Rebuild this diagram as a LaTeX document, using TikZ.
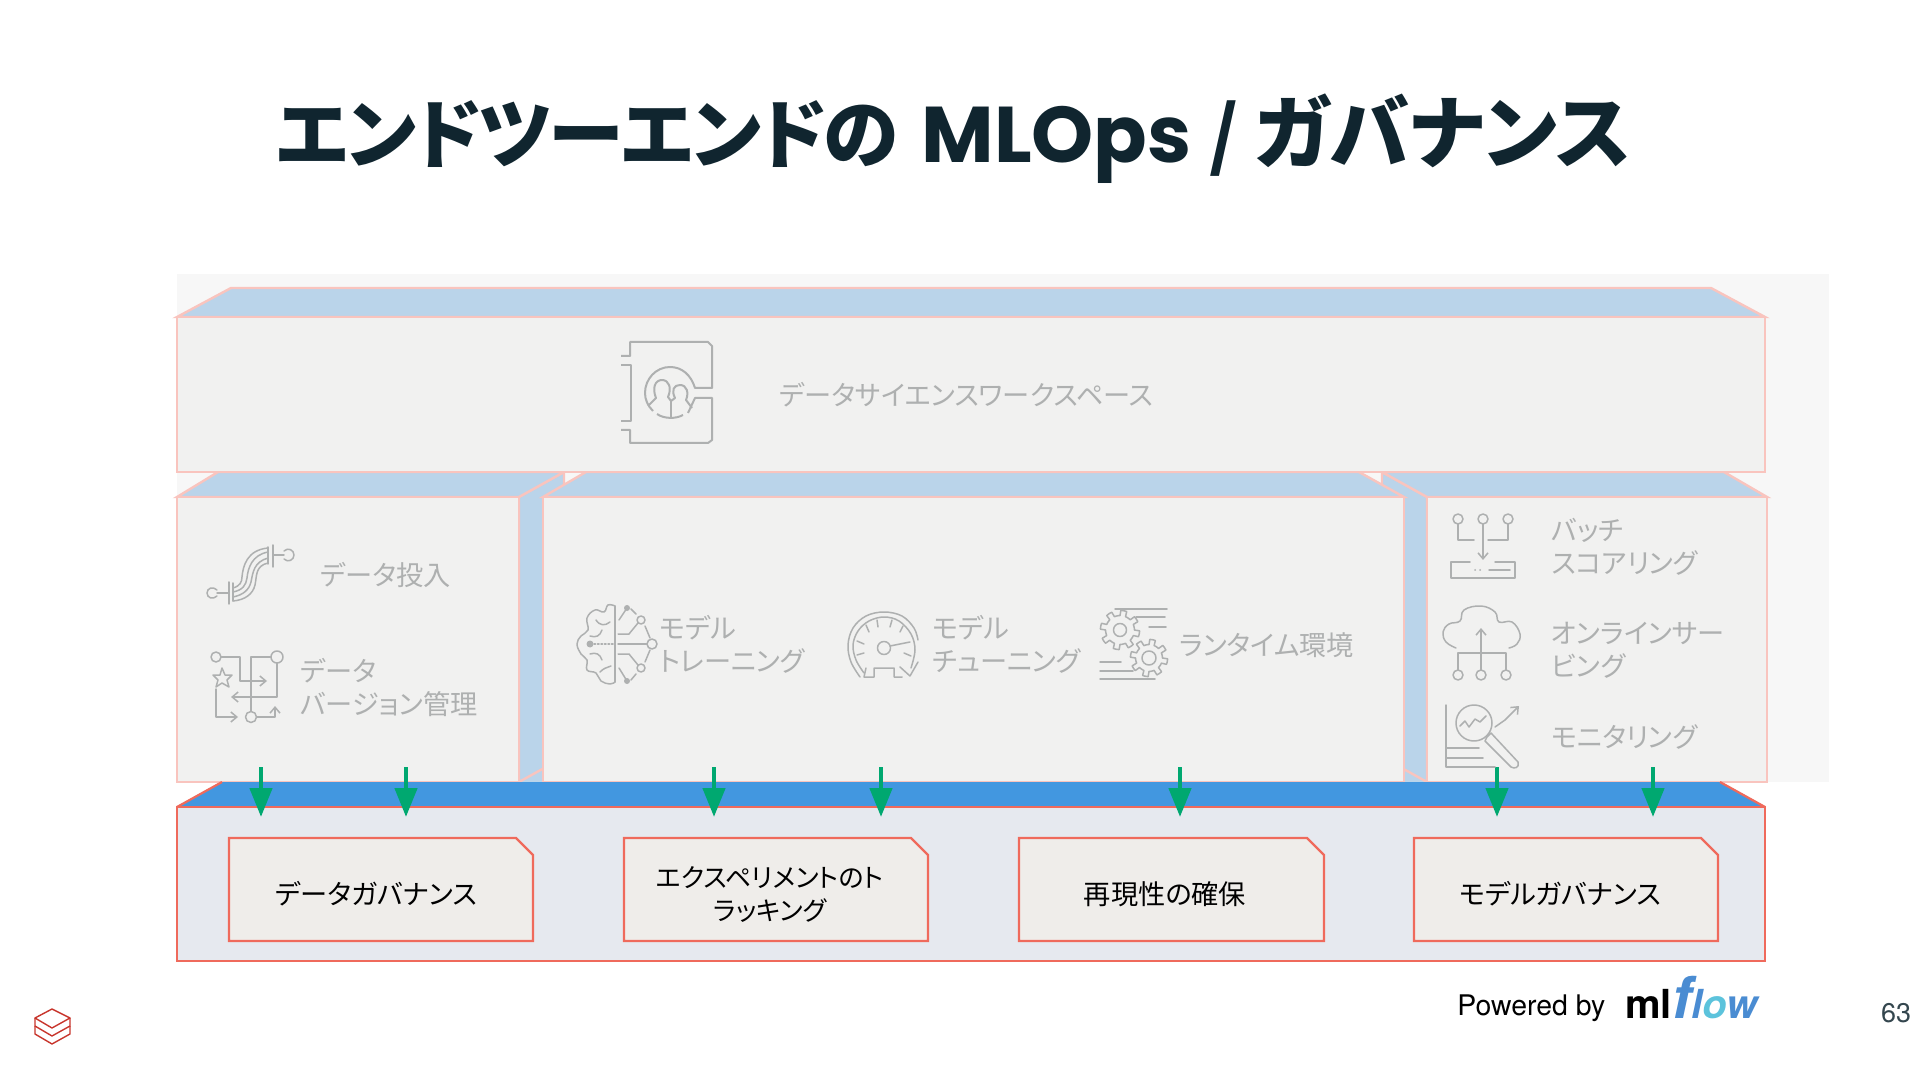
\documentclass[tikz,border=0pt]{standalone}
\usepackage{fontspec}
\setmainfont[RawFeature={+palt}]{Noto Sans CJK JP}
\newfontfamily\latinfont{TeX Gyre Heros}
\newfontfamily\titlelatin{Poppins}
\usetikzlibrary{arrows.meta}
\definecolor{pagebg}{HTML}{F7F7F7}
\definecolor{frontc}{HTML}{F1F1F0}
\definecolor{topc}{HTML}{BAD4EA}
\definecolor{pinkc}{HTML}{F9C4BE}
\definecolor{redc}{HTML}{EF6A5C}
\definecolor{govfront}{HTML}{E6E9EF}
\definecolor{govtop}{HTML}{4297E0}
\definecolor{cardc}{HTML}{EFEDEA}
\definecolor{greenc}{HTML}{00A870}
\definecolor{iconc}{HTML}{AEB0B0}
\definecolor{titlec}{HTML}{10252F}
\definecolor{logoc}{HTML}{C8352C}
\definecolor{mlblue}{HTML}{4A8CD2}
\definecolor{mlcyan}{HTML}{5CC3DC}
\tikzset{
  faint/.style={draw=pinkc,line width=1.2pt,line join=miter},
  strong/.style={draw=redc,line width=1.1pt,line join=miter},
  label/.style={inner sep=0pt,text=iconc,anchor=west,align=left,font=\fontsize{13.6}{16.5}\selectfont},
  cardtext/.style={inner sep=0pt,text=black,anchor=center,align=center,font=\fontsize{13.6}{16.5}\selectfont},
  icon/.style={draw=iconc,line width=0.75pt,line cap=round,line join=round},
  heavyicon/.style={draw=iconc,line width=1pt,line cap=butt,line join=round},
  flowarrow/.style={draw=greenc,line width=2.3pt,-{Triangle[length=14.5pt,width=11pt]}},
}
\newcommand{\gearicon}[3]{% cx cy r
  \path[icon,fill=frontc] plot[domain=0:360,samples=145,variable=\t] ({#1+(#3+(sin(8*\t)>0?2.6:-2.6))*cos(\t)},{#2+(#3+(sin(8*\t)>0?2.6:-2.6))*sin(\t)}) -- cycle;
}
\begin{document}
\begin{tikzpicture}[x=0.5pt,y=-0.5pt]
\path[use as bounding box,fill=white] (0,0) rectangle (1918,1080);
\fill[pagebg] (177,274) rectangle (1829,782);
% workspace block
\path[faint,fill=topc] (177,317) -- (231,288) -- (1711,288) -- (1765,317) -- cycle;
% side faces of the middle blocks
\fill[topc] (519,740) rectangle (543,782);
\fill[topc] (1404,740) rectangle (1427,782);
\path[faint,fill=topc] (519,497) -- (564,472) -- (564,757) -- (519,782) -- cycle;
\path[faint,fill=topc] (1427,497) -- (1382,472) -- (1382,757) -- (1427,782) -- cycle;
% tops of the middle blocks
\path[faint,fill=topc] (177,497) -- (218,472) -- (564,472) -- (519,497) -- cycle;
\path[faint,fill=topc] (543,497) -- (586,472) -- (1359,472) -- (1404,497) -- cycle;
\path[faint,fill=topc] (1427,497) -- (1382,472) -- (1724,472) -- (1767,497) -- cycle;
% fronts
\path[faint,fill=frontc] (177,317) rectangle (1765,472);
\path[faint,fill=frontc] (177,497) rectangle (519,782);
\path[faint,fill=frontc] (543,497) rectangle (1404,782);
\path[faint,fill=frontc] (1427,497) rectangle (1767,782);
% governance block
\path[fill=govtop] (177,807) -- (222,782) -- (1720,782) -- (1765,807) -- cycle;
\draw[strong] (177,807) -- (222,782);
\draw[strong] (1720,782) -- (1765,807);
\path[strong,fill=govfront] (177,807) rectangle (1765,961);
% cards
\path[strong,fill=cardc] (229,838) -- (516,838) -- (533,855) -- (533,941) -- (229,941) -- cycle;
\path[strong,fill=cardc] (624,838) -- (911,838) -- (928,855) -- (928,941) -- (624,941) -- cycle;
\path[strong,fill=cardc] (1019,838) -- (1307,838) -- (1324,855) -- (1324,941) -- (1019,941) -- cycle;
\path[strong,fill=cardc] (1414,838) -- (1701,838) -- (1718,855) -- (1718,941) -- (1414,941) -- cycle;
% texts
\node[inner sep=0pt,anchor=west,text=titlec,font=\fontsize{38}{44}\selectfont\bfseries] (title) at (276,139) {{\addfontfeature{LetterSpace=-3}エンドツーエンドの}\hspace{11.5pt}{\titlelatin\fontsize{39.5}{44}\selectfont MLOps}\hspace{9pt}/\hspace{8pt}{\fontsize{40}{44}\selectfont ガバナンス}};
\node[label] (wslabel) at (779,395) {データサイエンスワークスペース};
\node[label] (ingest) at (320,575) {データ投入};
\node[label] (version) at (300,688) {データ\\バージョン管理};
\node[label] (train) at (659,644) {モデル\\トレーニング};
\node[label] (tune) at (932,644) {モデル\\チューニング};
\node[label] (runtime) at (1179,645) {ランタイム環境};
\node[label] (batch) at (1551,547) {バッチ\\スコアリング};
\node[label] (serving) at (1551,650) {オンラインサー\\ビング};
\node[label] (monitor) at (1551,737) {モニタリング};
\node[cardtext] (card1) at (376,894) {データガバナンス};
\node[cardtext,font=\fontsize{13}{16.5}\selectfont] (card2) at (770,894) {エクスペリメントのト\\ラッキング};
\node[cardtext] (card3) at (1165,894) {再現性の確保};
\node[cardtext] (card4) at (1560,894) {モデルガバナンス};
\node[inner sep=0pt,anchor=base west,text=black,font=\latinfont\fontsize{14.2}{16}\selectfont] (powered) at (1457,1015) {Powered by};
\node[inner sep=0pt,anchor=base west,font=\latinfont\fontsize{20}{20}\selectfont\bfseries] (mlflow) at (1625,1018) {ml\textcolor{mlblue}{\itshape{\fontsize{29}{20}\selectfont f}l\textcolor{mlcyan}{o}w}};
\node[inner sep=0pt,text=titlec!85,font=\latinfont\fontsize{13.5}{16}\selectfont] (pageno) at (1896,1013) {63};
% arrows
\foreach \n/\x in {a/261,b/406,c/714,d/881,e/1180,f/1497,g/1653}{
  \coordinate (\n s) at (\x,767);
  \coordinate (\n e) at (\x,817);
  \draw[flowarrow] (\n s) -- (\n e);
}
% workspace icon
\draw[heavyicon] (621,356) -- (630,356) -- (630,342) -- (708,342) -- (712,346) -- (712,388) -- (695,388)
  .. controls (691,375) and (682,367) .. (670,367)
  .. controls (656,367) and (645,379) .. (645,393)
  .. controls (645,400) and (648,406) .. (653,411);
\draw[heavyicon] (688,413) -- (695,398) -- (712,398) -- (712,440) -- (708,443) -- (630,443) -- (630,430) -- (621,430);
\draw[heavyicon] (621,365) -- (631,365) -- (631,421) -- (621,421);
\draw[heavyicon] (648,406) -- (656,398) .. controls (652,388) and (655,380) .. (662,380) .. controls (669,380) and (672,388) .. (668,397) -- (671,401) -- (675,398) .. controls (671,390) and (674,385) .. (680,385) .. controls (687,385) and (689,393) .. (686,400) -- (692,408);
\draw[heavyicon] (671,401) -- (671,418);
\draw[heavyicon] (657,414) .. controls (664,419) and (676,419) .. (683,415);
% pipe icon
\draw[icon] (217,596) .. controls (213,600) and (207,598) .. (207,593) .. controls (207,588) and (213,586) .. (217,590);
\draw[icon] (217,593) -- (229,593);
\draw[icon] (229,582) -- (229,604);
\draw[icon] (233,583) -- (233,601);
\draw[icon] (233,588) .. controls (240,586) and (242,582) .. (242,577) .. controls (243,566) and (247,550) .. (268,548);
\draw[icon] (233,601) .. controls (245,600) and (253,594) .. (255,585) .. controls (257,576) and (255,566) .. (268,563);
\draw[icon] (233,592) .. controls (243,590) and (246,585) .. (247,578) .. controls (248,568) and (252,555) .. (268,552);
\draw[icon] (233,597) .. controls (243,595) and (249,590) .. (251,582) .. controls (253,572) and (254,562) .. (268,558);
\draw[icon] (268,547) -- (268,564);
\draw[icon] (273,545) -- (273,567);
\draw[icon] (273,555) -- (284,555);
\draw[icon] (284,551) .. controls (288,547) and (294,550) .. (294,555) .. controls (294,560) and (288,563) .. (284,559);
% version icon
\draw[icon] (216,657) circle[radius=5];
\draw[icon] (277,657) circle[radius=6];
\draw[icon] (251,717) circle[radius=5.5];
\draw[icon,-{Straight Barb[length=3pt,width=5pt]}] (221,657) -- (240,657) -- (240,681) -- (267,681);
\draw[icon] (271,657) -- (251,657) -- (251,711);
\draw[icon,-{Straight Barb[length=3pt,width=5pt]}] (277,663) -- (277,697) -- (231,697);
\draw[icon,-{Straight Barb[length=3pt,width=5pt]}] (216,689) -- (216,717) -- (238,717);
\draw[icon,-{Straight Barb[length=3pt,width=5pt]}] (257,717) -- (275,717) -- (275,706);
\draw[icon] (222,668) -- (225,675) -- (232,675) -- (227,680) -- (229,687) -- (222,683) -- (216,687) -- (218,680) -- (213,675) -- (220,675) -- cycle;
% brain icon
\draw[icon] plot[smooth,tension=.7] coordinates {(615,606) (608,605) (604,612) (595,610) (587,618) (588,630) (581,636) (577,644) (581,654) (587,660) (587,670) (596,673) (601,681) (610,684) (615,682)};
\draw[icon] (615,606) -- (615,682);
\draw[icon] (596,620) .. controls (600,626) and (605,626) .. (610,622);
\draw[icon] (590,636) .. controls (596,638) and (600,636) .. (602,630);
\draw[icon] (590,654) .. controls (596,652) and (600,654) .. (602,660);
\draw[icon] (600,672) .. controls (604,668) and (606,668) .. (611,666);
\fill[iconc] (590,644) circle[radius=3.5] (627,608) circle[radius=3] (627,681) circle[radius=3];
\draw[icon,densely dotted] (594,644) -- (615,644);
\draw[icon] (618,644) -- (647,644);
\draw[icon] (652,644) circle[radius=5];
\draw[icon] (641,620) circle[radius=4];
\draw[icon] (641,668) circle[radius=4];
\draw[icon] (619,620) -- (627,608);
\draw[icon] (619,668) -- (627,681);
\draw[icon] (618,634) -- (629,634) -- (638,623);
\draw[icon] (618,654) -- (629,654) -- (638,665);
\draw[icon] (631,609) -- (636,614);
\draw[icon] (631,680) -- (636,674);
\draw[icon] (645,626) -- (650,638);
\draw[icon] (645,662) -- (650,650);
% gauge icon
\draw[icon] plot[smooth,tension=.6] coordinates {(860,677) (851,662) (848,645) (853,628) (866,616) (884,612) (902,616) (914,628) (918,640)};
\draw[icon] plot[smooth,tension=.6] coordinates {(864,673) (856,660) (853,645) (858,631) (869,621) (884,617) (899,621) (911,634) (915,650) (911,668)};
\draw[icon] (866,668) -- (864,677) -- (874,677) -- (874,668) -- (894,668) -- (894,677) -- (902,677);
\draw[icon] (900,667) -- (910,676) -- (918,662);
\draw[icon] (884,648) circle[radius=6.5];
\draw[icon] (890,646) -- (910,642);
\draw[icon] (866,625) -- (869,632);
\draw[icon] (877,620) -- (878,627);
\draw[icon] (892,620) -- (890,627);
\draw[icon] (903,626) -- (900,632);
\draw[icon] (857,641) -- (864,644);
\draw[icon] (857,655) -- (864,653);
\draw[icon] (904,653) -- (911,656);
% gears icon
\gearicon{1120}{630}{17}
\draw[icon] (1120,630) circle[radius=6.5];
\gearicon{1149}{658}{16}
\draw[icon] (1149,658) circle[radius=7];
\draw[icon] (1115,609) -- (1167,609);
\draw[icon] (1136,617) -- (1165,617);
\draw[icon] (1149,627) -- (1166,627);
\draw[icon] (1100,662) -- (1121,662);
\draw[icon] (1100,671) -- (1133,671);
\draw[icon] (1100,679) -- (1155,679);
% batch icon
\draw[icon] (1458,519) circle[radius=5];
\draw[icon] (1483,519) circle[radius=5];
\draw[icon] (1508,519) circle[radius=5];
\draw[icon] (1458,524) -- (1458,540) -- (1474,540);
\draw[icon] (1508,524) -- (1508,540) -- (1488,540);
\draw[icon,-{Straight Barb[length=3pt,width=5pt]}] (1483,524) -- (1483,560);
\draw[icon] (1470,562) -- (1451,562) -- (1451,578) -- (1515,578) -- (1515,562) -- (1495,562);
\draw[icon] (1489,570) -- (1510,570);
\fill[iconc] (1475,570) circle[radius=1] (1480,570) circle[radius=1];
% cloud icon
\draw[icon] plot[smooth,tension=.7] coordinates {(1456,648) (1446,642) (1443,632) (1449,624) (1460,621) (1464,610) (1481,606) (1495,612) (1499,622) (1512,622) (1520,634) (1517,644) (1509,648)};
\draw[icon,-{Straight Barb[length=3pt,width=5pt]}] (1481,670) -- (1481,628);
\draw[icon] (1458,670) -- (1458,653) -- (1506,653) -- (1506,670);
\draw[icon] (1458,675) circle[radius=5];
\draw[icon] (1481,675) circle[radius=5];
\draw[icon] (1506,675) circle[radius=5];
% monitor icon
\draw[icon] (1446,705) -- (1446,767) -- (1495,767);
\draw[icon] (1446,748) -- (1479,748);
\draw[icon] (1446,758) -- (1483,758);
\draw[icon] (1474,723) circle[radius=18];
\draw[icon] (1460,726) -- (1465,721) -- (1469,727) -- (1475,719) -- (1480,722) -- (1486,716);
\draw[icon] (1487,737) -- (1491,733) -- (1518,762) .. controls (1520,768) and (1514,769) .. (1511,767) -- (1485,741) -- (1487,737);
\draw[icon,-{Straight Barb[length=3pt,width=5pt]}] (1495,727) -- (1505,720) -- (1519,706);
% brand mark
\draw[draw=logoc,line width=0.7pt,line join=round] (52,1009) -- (35,1018) -- (52,1028) -- (70,1018) -- cycle;
\draw[draw=logoc,line width=0.7pt,line join=round] (35,1018) -- (35,1026) -- (52,1036) -- (70,1026) -- (70,1018);
\draw[draw=logoc,line width=0.7pt,line join=round] (35,1026) -- (35,1034) -- (52,1044) -- (70,1034) -- (70,1026);
\end{tikzpicture}
\end{document}
